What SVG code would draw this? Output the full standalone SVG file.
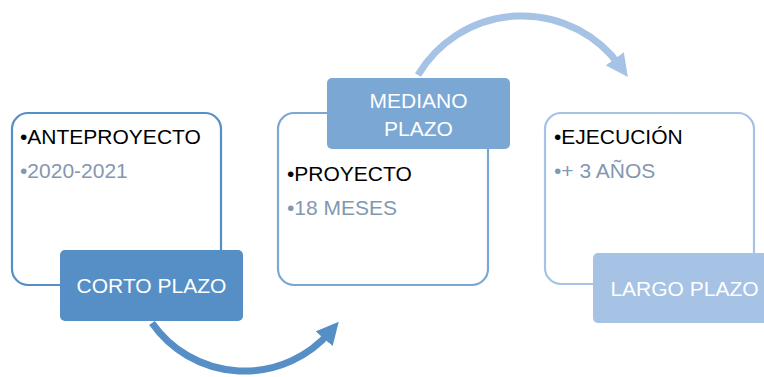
<svg xmlns="http://www.w3.org/2000/svg" width="764" height="377" viewBox="0 0 764 377">
<defs>
<style>
.t{font-family:"Liberation Sans",Arial,sans-serif;font-size:21px}
.k{fill:#000}
.g{fill:#8497b0}
.w{fill:#fff;text-anchor:middle}
</style>
<marker id="a1" viewBox="0 0 10 10" refX="4" refY="5" markerWidth="3.2" markerHeight="3.2" orient="auto" markerUnits="strokeWidth"><path d="M0,0 L10,5 L0,10 Z" fill="#558fc6"/></marker>
<marker id="a2" viewBox="0 0 10 10" refX="4" refY="5" markerWidth="3.2" markerHeight="3.2" orient="auto" markerUnits="strokeWidth"><path d="M0,0 L10,5 L0,10 Z" fill="#a6c2e4"/></marker>
</defs>
<rect width="764" height="377" fill="#fff"/>
<g id="connectors" fill="none" stroke-width="7">
<path d="M152,323 A113,113 0 0 0 330,332" stroke="#558fc6" marker-end="url(#a1)"/>
<path d="M418,75 A121,121 0 0 1 620,66" stroke="#a6c2e4" marker-end="url(#a2)"/>
</g>
<g id="corto">
<rect x="12" y="113" width="209" height="172" rx="16" fill="#fff" stroke="#558fc6" stroke-width="2.2"/>
<text class="t k" x="20" y="144">•ANTEPROYECTO</text>
<text class="t g" x="20" y="178">•2020-2021</text>
<rect x="60" y="250" width="183" height="71" rx="5" fill="#558fc6"/>
<text class="t w" x="151.5" y="293">CORTO PLAZO</text>
</g>
<g id="mediano">
<rect x="278" y="113" width="210" height="172" rx="16" fill="#fff" stroke="#7ba7d4" stroke-width="2.2"/>
<text class="t k" x="287" y="181">•PROYECTO</text>
<text class="t g" x="287" y="215">•18 MESES</text>
<rect x="327" y="78" width="183" height="71" rx="5" fill="#7ba7d4"/>
<text class="t w" x="418.5" y="108">MEDIANO</text>
<text class="t w" x="418.5" y="136">PLAZO</text>
</g>
<g id="largo">
<rect x="545" y="113" width="209" height="171" rx="16" fill="#fff" stroke="#a6c2e4" stroke-width="2.2"/>
<text class="t k" x="554" y="144">•EJECUCIÓN</text>
<text class="t g" x="554" y="178">•+ 3 AÑOS</text>
<rect x="593" y="253" width="183" height="70" rx="5" fill="#a6c2e4"/>
<text class="t w" x="684.5" y="296">LARGO PLAZO</text>
</g>
</svg>
